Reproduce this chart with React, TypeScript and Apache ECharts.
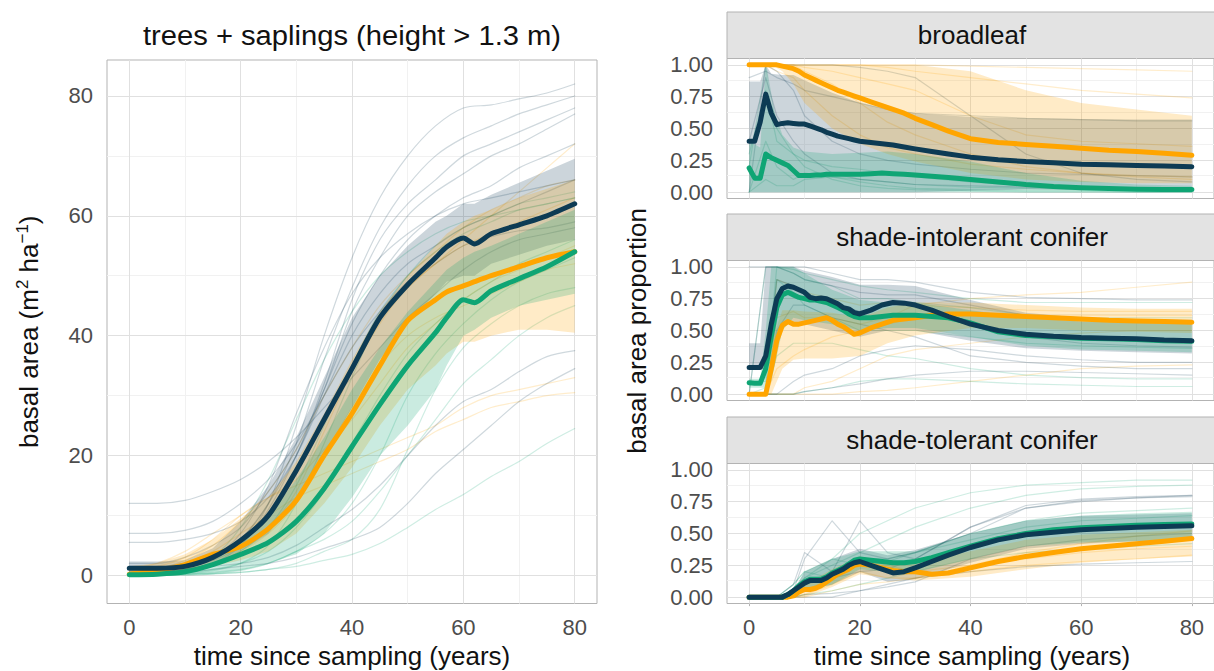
import { useEffect, useRef } from 'react';
import * as echarts from 'echarts';

const FONT = '"Liberation Sans", Arial, Helvetica, sans-serif';
const NAVY = '#0d3b54';
const ORANGE = '#ffa500';
const GREEN = '#0fa574';
const NAVY_FILL = 'rgba(13,59,84,0.21)';
const ORANGE_FILL = 'rgba(255,165,0,0.22)';
const GREEN_FILL = 'rgba(15,165,116,0.22)';

// ---------- left panel: basal area ----------
const TL = [0, 5, 10, 15, 20, 25, 30, 35, 40, 45, 50, 55, 57, 60, 62, 65, 70, 75, 80];
const baNavy = [1.2, 1.2, 1.5, 3, 5.8, 10, 17.5, 26, 34.5, 43, 48.5, 53, 54.8, 56.3, 55.3, 57, 58.5, 60, 62];
const baOrange = [0.2, 0.8, 1.8, 3.5, 4.8, 7.8, 12.5, 20, 27, 35, 42.5, 46, 47.3, 48.3, 49, 50, 51.5, 53, 54];
const baGreen = [0.1, 0.2, 0.6, 1.8, 3.5, 5.5, 9, 14.5, 21.5, 28.5, 35, 40.5, 43, 46, 45.5, 47.5, 49.5, 51.5, 54];
const baNavyHi = [2.3, 2.3, 2.5, 4.5, 9, 15, 23, 33, 43, 50, 55, 59, 60, 62, 62, 63.5, 65.5, 67.5, 69.5];
const baNavyLo = [0.3, 0.3, 0.6, 1.5, 4, 7, 13, 20, 28, 36, 42, 47, 49, 50, 50, 52, 53.5, 55, 56];
const baOrangeHi = [1.5, 2, 3.5, 6, 9.5, 13, 19, 27, 36, 44, 50, 55, 57, 59, 60, 61, 63, 64.5, 66];
const baOrangeLo = [0, 0.2, 0.5, 1.5, 2.5, 4, 7, 12, 18, 25, 31, 35, 37, 39, 39, 40, 41, 41, 40.5];
const baGreenHi = [0.4, 0.5, 1, 2.5, 6, 10, 16, 23, 31, 38, 44, 49, 51, 53, 54, 55, 57, 59, 61];
const baGreenLo = [0, 0, 0.1, 0.3, 0.8, 2, 3.5, 7, 13, 20, 25, 31, 35, 40, 41, 43, 45, 46, 47];

const TS = [0, 5, 10, 15, 20, 25, 30, 35, 40, 45, 50, 55, 60, 65, 70, 75, 80];
const baNavyRuns = [
  [0.5, 0.8, 1, 2, 5, 12, 25, 40, 53, 63, 70, 75, 78, 78.5, 79.5, 80.5, 82],
  [1.5, 1.5, 2, 3, 6, 12, 22, 36, 48, 58, 65, 70, 73, 75, 77, 78.5, 80],
  [1, 1, 1.5, 2.5, 5, 11, 20, 32, 46, 56, 62, 66, 70, 72, 74, 76, 78],
  [1, 1, 2, 3, 6, 12, 20, 31, 44, 53, 60, 64, 67, 70, 72, 74.5, 77],
  [2, 2, 3, 5, 8, 14, 21, 31, 42, 50, 56, 60, 63, 65, 68, 70, 72],
  [12, 12, 12.5, 14, 16, 19, 23, 28, 33, 38, 43, 47, 51, 54, 56, 57, 58],
  [7, 7, 7.5, 9, 12, 16, 22, 30, 38, 44, 49, 52, 55, 56.5, 57.5, 58, 59],
  [0.5, 0.5, 1, 1.5, 2, 3, 5, 8, 11, 15, 20, 25, 29, 31, 34, 36.5, 37.5],
  [0.5, 0.5, 0.5, 1, 1.5, 2, 3, 4.5, 6, 8, 12, 17, 21, 25, 29, 32, 34.5],
  [5.5, 5.5, 6, 7, 9, 13, 20, 30, 40, 47, 52, 55, 58, 60, 62, 64, 66],
  [1, 1, 1.5, 3, 7, 15, 27, 38, 47, 53, 57, 60, 62, 63, 64, 65, 66],
];
const baOrangeRuns = [
  [0.5, 1, 2.5, 5, 9, 14, 21, 30, 38, 45, 50, 54, 58, 61, 63, 65, 66],
  [1, 2, 4, 7, 10, 13, 16, 21, 26, 32, 38, 42, 46, 49, 51, 53, 55],
  [1, 1.5, 3, 6, 10, 13, 15, 17, 19, 21, 23, 25, 28, 30, 31, 32, 33],
  [0.5, 1, 2, 4, 7, 10, 13, 15, 17, 19, 21, 24, 26, 28, 29, 30, 30.5],
  [0.5, 1, 2, 3, 5, 8, 14, 24, 34, 42, 48, 52, 56, 60, 64, 68, 72],
  [0.2, 0.5, 1, 2, 4, 7, 12, 20, 28, 35, 40, 43, 45, 47, 49, 51, 52],
  [0, 0.5, 1.5, 3, 6, 10, 17, 26, 35, 43, 48, 52, 55, 57, 59, 61, 63],
];
const baGreenRuns = [
  [0, 0, 0.2, 0.3, 0.5, 1, 1.5, 2.5, 3.5, 5.3, 8, 11, 13.5, 16.5, 19, 22, 24.5],
  [0, 0.2, 0.5, 1, 2, 4, 8, 14, 22, 30, 37, 42, 46, 49, 52, 54, 56],
  [0, 0.1, 0.3, 0.8, 2, 5, 12, 22, 33, 43, 50, 54, 57, 59, 61, 62, 63],
  [0.5, 0.5, 1, 2, 4, 8, 15, 25, 35, 44, 50, 55, 58, 60, 62, 63, 64],
  [0, 0, 0.2, 0.5, 1, 2, 4, 7, 12, 20, 30, 37, 42, 46, 49, 51, 53],
  [0, 0, 0, 0.2, 0.5, 1, 2, 4, 6, 11, 21, 31, 38, 42, 45, 47, 48],
  [0, 0, 0.1, 0.3, 0.8, 2, 4, 6, 9, 14, 20, 26, 32, 36, 40, 43, 45],
  [0, 0.3, 1, 3, 8, 16, 26, 36, 44, 50, 54, 57, 59, 60, 61, 62, 63],
];

// ---------- right panels: basal area proportion ----------
const TR = [0, 1, 2, 3, 4, 5, 6, 7, 8, 9, 10, 11, 12, 13, 14, 15, 16, 17, 18, 19, 20, 22, 24, 26, 28, 30, 33, 36, 40, 45, 50, 55, 60, 65, 70, 75, 80];
const blOrange = [1, 1, 1, 1, 1, 1, 0.99, 0.98, 0.97, 0.95, 0.92, 0.9, 0.88, 0.86, 0.84, 0.82, 0.8, 0.785, 0.77, 0.755, 0.74, 0.71, 0.68, 0.65, 0.62, 0.58, 0.53, 0.48, 0.42, 0.39, 0.375, 0.36, 0.345, 0.33, 0.32, 0.305, 0.29];
const blNavy = [0.4, 0.4, 0.55, 0.77, 0.62, 0.53, 0.54, 0.545, 0.54, 0.535, 0.535, 0.52, 0.505, 0.49, 0.47, 0.455, 0.44, 0.43, 0.42, 0.41, 0.4, 0.39, 0.38, 0.37, 0.355, 0.34, 0.32, 0.3, 0.275, 0.255, 0.24, 0.23, 0.22, 0.215, 0.21, 0.205, 0.2];
const blGreen = [0.19, 0.11, 0.11, 0.3, 0.27, 0.25, 0.23, 0.21, 0.17, 0.13, 0.13, 0.13, 0.135, 0.135, 0.14, 0.14, 0.14, 0.14, 0.14, 0.14, 0.14, 0.145, 0.15, 0.145, 0.14, 0.135, 0.125, 0.115, 0.1, 0.08, 0.06, 0.045, 0.035, 0.028, 0.022, 0.02, 0.02];
const inNavy = [0.21, 0.21, 0.21, 0.3, 0.55, 0.75, 0.83, 0.85, 0.84, 0.82, 0.8, 0.76, 0.75, 0.755, 0.75, 0.73, 0.71, 0.68, 0.67, 0.64, 0.63, 0.66, 0.7, 0.72, 0.715, 0.7, 0.66, 0.61, 0.55, 0.5, 0.47, 0.455, 0.445, 0.44, 0.435, 0.425, 0.42];
const inOrange = [0, 0, 0, 0, 0.2, 0.42, 0.54, 0.57, 0.55, 0.55, 0.56, 0.57, 0.58, 0.59, 0.6, 0.58, 0.55, 0.53, 0.5, 0.47, 0.48, 0.52, 0.55, 0.58, 0.59, 0.6, 0.62, 0.63, 0.63, 0.62, 0.61, 0.6, 0.59, 0.58, 0.575, 0.57, 0.565];
const inGreen = [0.09, 0.085, 0.085, 0.2, 0.45, 0.68, 0.78, 0.8, 0.78, 0.76, 0.75, 0.74, 0.74, 0.73, 0.72, 0.7, 0.68, 0.66, 0.63, 0.61, 0.6, 0.6, 0.61, 0.62, 0.62, 0.62, 0.61, 0.6, 0.56, 0.49, 0.46, 0.45, 0.44, 0.435, 0.43, 0.42, 0.415];
const toNavy = [0, 0, 0, 0, 0, 0, 0, 0.02, 0.05, 0.08, 0.11, 0.13, 0.13, 0.13, 0.15, 0.18, 0.2, 0.22, 0.25, 0.27, 0.28, 0.25, 0.22, 0.19, 0.2, 0.23, 0.28, 0.33, 0.39, 0.45, 0.49, 0.51, 0.53, 0.54, 0.55, 0.555, 0.56];
const toOrange = [0, 0, 0, 0, 0, 0, 0, 0, 0.01, 0.04, 0.06, 0.06, 0.07, 0.09, 0.12, 0.15, 0.18, 0.2, 0.22, 0.25, 0.26, 0.25, 0.23, 0.21, 0.2, 0.2, 0.18, 0.19, 0.23, 0.28, 0.32, 0.35, 0.38, 0.4, 0.42, 0.44, 0.46];
const toGreen = [0, 0, 0, 0, 0, 0, 0, 0.02, 0.05, 0.09, 0.12, 0.14, 0.14, 0.14, 0.16, 0.19, 0.21, 0.23, 0.26, 0.29, 0.3, 0.29, 0.28, 0.27, 0.27, 0.28, 0.31, 0.35, 0.4, 0.46, 0.5, 0.53, 0.545, 0.555, 0.565, 0.57, 0.575];

const TRB = [0, 2, 3, 4, 6, 8, 10, 15, 20, 25, 30, 40, 50, 60, 70, 80];
const blNavyHi = [0.87, 0.87, 1, 0.93, 0.92, 0.92, 0.88, 0.78, 0.7, 0.65, 0.62, 0.59, 0.58, 0.575, 0.57, 0.57];
const blNavyLo = [0, 0, 0, 0, 0, 0, 0, 0, 0, 0, 0, 0.01, 0.02, 0.02, 0.02, 0.02];
const blOrangeHi = [1, 1, 1, 1, 1, 1, 1, 1, 1, 1, 1, 0.95, 0.8, 0.7, 0.65, 0.6];
const blOrangeLo = [1, 1, 1, 1, 0.95, 0.85, 0.7, 0.5, 0.38, 0.3, 0.24, 0.15, 0.1, 0.08, 0.07, 0.07];
const blGreenHi = [0.4, 0.35, 1, 0.7, 0.45, 0.35, 0.32, 0.3, 0.31, 0.32, 0.3, 0.24, 0.15, 0.09, 0.06, 0.05];
const blGreenLo = [0, 0, 0, 0, 0, 0, 0, 0, 0, 0, 0, 0, 0, 0, 0, 0];
const inNavyHi = [0.4, 0.4, 1, 1, 1, 1, 0.97, 0.92, 0.86, 0.86, 0.85, 0.74, 0.64, 0.6, 0.59, 0.58];
const inNavyLo = [0.2, 0.2, 0.2, 0.25, 0.55, 0.55, 0.55, 0.5, 0.45, 0.5, 0.5, 0.42, 0.36, 0.34, 0.33, 0.32];
const inOrangeHi = [0, 0, 0, 0.4, 0.66, 0.66, 0.65, 0.64, 0.6, 0.68, 0.72, 0.72, 0.7, 0.68, 0.67, 0.67];
const inOrangeLo = [0, 0, 0, 0, 0.2, 0.27, 0.28, 0.28, 0.3, 0.4, 0.46, 0.52, 0.52, 0.5, 0.49, 0.48];
const inGreenHi = [0.12, 0.12, 0.5, 1, 1, 1, 0.95, 0.82, 0.74, 0.72, 0.72, 0.66, 0.6, 0.57, 0.56, 0.55];
const inGreenLo = [0.05, 0.05, 0.05, 0.1, 0.5, 0.6, 0.58, 0.55, 0.5, 0.52, 0.52, 0.45, 0.38, 0.35, 0.34, 0.33];
const toNavyHi = [0, 0, 0, 0, 0, 0.05, 0.2, 0.3, 0.38, 0.33, 0.37, 0.5, 0.6, 0.64, 0.65, 0.66];
const toNavyLo = [0, 0, 0, 0, 0, 0, 0.05, 0.1, 0.2, 0.12, 0.14, 0.27, 0.38, 0.42, 0.44, 0.45];
const toOrangeHi = [0, 0, 0, 0, 0, 0, 0.1, 0.22, 0.32, 0.28, 0.27, 0.36, 0.45, 0.49, 0.51, 0.53];
const toOrangeLo = [0, 0, 0, 0, 0, 0, 0, 0.08, 0.18, 0.15, 0.13, 0.16, 0.22, 0.27, 0.3, 0.32];
const toGreenHi = [0, 0, 0, 0, 0, 0.05, 0.2, 0.3, 0.36, 0.36, 0.36, 0.5, 0.6, 0.64, 0.66, 0.67];
const toGreenLo = [0, 0, 0, 0, 0, 0, 0.05, 0.1, 0.22, 0.2, 0.2, 0.3, 0.4, 0.43, 0.44, 0.45];

const TRS = [0, 3, 5, 8, 10, 15, 20, 25, 30, 40, 50, 60, 70, 80];
const blNavyRuns = [
  [0.9, 0.95, 0.9, 0.85, 0.8, 0.75, 0.7, 0.65, 0.62, 0.6, 0.58, 0.57, 0.56, 0.56],
  [0, 1, 0.95, 0.8, 0.6, 0.4, 0.3, 0.25, 0.22, 0.18, 0.15, 0.14, 0.13, 0.12],
  [1, 1, 1, 1, 1, 1, 0.98, 0.95, 0.9, 0.6, 0.3, 0.15, 0.1, 0.08],
  [0.4, 0.9, 0.6, 0.4, 0.3, 0.15, 0.1, 0.08, 0.06, 0.05, 0.04, 0.03, 0.03, 0.03],
];
const blOrangeRuns = [
  [1, 1, 1, 1, 1, 1, 1, 1, 1, 0.99, 0.98, 0.97, 0.96, 0.95],
  [1, 1, 1, 1, 1, 1, 1, 0.98, 0.95, 0.9, 0.85, 0.8, 0.77, 0.74],
  [1, 1, 1, 1, 0.98, 0.95, 0.9, 0.85, 0.8, 0.6, 0.45, 0.4, 0.38, 0.36],
  [1, 1, 1, 1, 0.95, 0.85, 0.7, 0.55, 0.45, 0.3, 0.2, 0.15, 0.12, 0.1],
  [1, 1, 0.95, 0.9, 0.8, 0.6, 0.45, 0.35, 0.3, 0.22, 0.18, 0.15, 0.13, 0.12],
];
const blGreenRuns = [
  [0.2, 1, 0.5, 0.3, 0.2, 0.1, 0.05, 0.03, 0.02, 0.01, 0, 0, 0, 0],
  [0, 0.4, 0.2, 0.1, 0.15, 0.12, 0.08, 0.05, 0.03, 0.02, 0.01, 0.01, 0, 0],
  [0.3, 0.8, 0.4, 0.3, 0.25, 0.2, 0.18, 0.15, 0.12, 0.08, 0.05, 0.03, 0.02, 0.02],
  [0, 0.1, 0.05, 0.05, 0.1, 0.12, 0.1, 0.08, 0.06, 0.04, 0.03, 0.02, 0.02, 0.01],
];
const inNavyRuns = [
  [1, 1, 1, 1, 1, 0.95, 0.9, 0.9, 0.88, 0.8, 0.76, 0.75, 0.74, 0.74],
  [0.2, 0.2, 0.9, 0.85, 0.8, 0.7, 0.65, 0.7, 0.72, 0.55, 0.45, 0.4, 0.38, 0.37],
  [0, 0, 0.5, 0.7, 0.7, 0.6, 0.55, 0.5, 0.45, 0.3, 0.25, 0.22, 0.2, 0.2],
  [0, 0, 0, 0.1, 0.15, 0.2, 0.3, 0.35, 0.38, 0.35, 0.3, 0.27, 0.25, 0.25],
  [0, 0, 0, 0, 0.02, 0.05, 0.08, 0.12, 0.15, 0.18, 0.18, 0.17, 0.16, 0.15],
  [0, 1, 1, 0.95, 0.9, 0.85, 0.8, 0.78, 0.78, 0.7, 0.62, 0.6, 0.58, 0.58],
];
const inOrangeRuns = [
  [0, 0, 0.6, 0.65, 0.6, 0.6, 0.55, 0.6, 0.7, 0.75, 0.78, 0.8, 0.84, 0.88],
  [0, 0, 0.2, 0.3, 0.35, 0.45, 0.5, 0.55, 0.6, 0.62, 0.62, 0.62, 0.62, 0.62],
  [0, 0, 0, 0, 0.05, 0.1, 0.2, 0.3, 0.35, 0.4, 0.45, 0.48, 0.5, 0.5],
  [0, 0, 0, 0, 0, 0, 0.02, 0.03, 0.05, 0.1, 0.15, 0.2, 0.22, 0.23],
  [0, 0, 0.9, 0.85, 0.8, 0.75, 0.7, 0.72, 0.7, 0.68, 0.66, 0.65, 0.65, 0.65],
];
const inGreenRuns = [
  [0.1, 0.1, 1, 0.95, 0.9, 0.85, 0.75, 0.75, 0.72, 0.68, 0.62, 0.6, 0.6, 0.6],
  [0, 0.05, 0.9, 0.8, 0.7, 0.6, 0.5, 0.5, 0.5, 0.45, 0.4, 0.38, 0.37, 0.36],
  [0, 0, 0.3, 0.4, 0.4, 0.4, 0.35, 0.3, 0.28, 0.2, 0.15, 0.13, 0.12, 0.12],
  [0, 0, 0, 0, 0.02, 0.05, 0.1, 0.12, 0.12, 0.1, 0.08, 0.07, 0.06, 0.06],
  [0, 1, 1, 0.98, 0.95, 0.9, 0.85, 0.82, 0.8, 0.75, 0.72, 0.72, 0.72, 0.72],
];
const toNavyRuns = [
  [0, 0, 0, 0.05, 0.3, 0.6, 0.35, 0.3, 0.35, 0.5, 0.7, 0.76, 0.78, 0.8],
  [0, 0, 0, 0.1, 0.35, 0.2, 0.6, 0.35, 0.3, 0.55, 0.72, 0.77, 0.79, 0.8],
  [0, 0, 0, 0.05, 0.1, 0.15, 0.2, 0.22, 0.3, 0.55, 0.7, 0.75, 0.78, 0.79],
  [0, 0, 0, 0, 0.02, 0.03, 0.05, 0.08, 0.12, 0.3, 0.4, 0.45, 0.48, 0.5],
  [0, 0, 0, 0, 0, 0, 0.05, 0.1, 0.15, 0.2, 0.24, 0.26, 0.27, 0.28],
];
const toOrangeRuns = [
  [0, 0, 0, 0, 0.05, 0.15, 0.3, 0.25, 0.2, 0.25, 0.3, 0.35, 0.38, 0.4],
  [0, 0, 0, 0, 0.02, 0.1, 0.2, 0.15, 0.15, 0.2, 0.25, 0.28, 0.3, 0.33],
  [0, 0, 0, 0, 0, 0.05, 0.1, 0.12, 0.15, 0.25, 0.35, 0.42, 0.48, 0.52],
];
const toGreenRuns = [
  [0, 0, 0, 0.1, 0.2, 0.3, 0.5, 0.6, 0.7, 0.82, 0.88, 0.9, 0.92, 0.92],
  [0, 0, 0, 0.05, 0.15, 0.25, 0.35, 0.45, 0.55, 0.7, 0.8, 0.85, 0.87, 0.88],
  [0, 0, 0, 0.1, 0.2, 0.15, 0.3, 0.3, 0.35, 0.45, 0.55, 0.6, 0.62, 0.64],
  [0, 0, 0, 0, 0.02, 0.05, 0.1, 0.15, 0.2, 0.3, 0.35, 0.38, 0.4, 0.42],
  [0, 0, 0, 0.05, 0.15, 0.3, 0.25, 0.28, 0.35, 0.5, 0.6, 0.66, 0.68, 0.7],
];

const X_TICKS = [0, 20, 40, 60, 80];
const X_MINOR = [10, 30, 50, 70];
const BA_TICKS = [0, 20, 40, 60, 80];
const BA_MINOR = [10, 30, 50, 70];
const P_TICKS = [0, 0.25, 0.5, 0.75, 1];
const P_MINOR = [0.125, 0.375, 0.625, 0.875];
const STRIPS = ['broadleaf', 'shade-intolerant conifer', 'shade-tolerant conifer'];

// layout
const L_LEFT = 107, L_TOP = 60, L_W = 490, L_H = 543.5;
const R_LEFT = 727, R_W = 490;
const R_TOPS = [58.5, 260.5, 463.5];
const R_H = 140;
const STRIP_H = 46.5;

const pairs = (t: number[], v: number[]) => t.map((x, i) => [x, v[i]]);

function gridLines(yMaj: number[], yMin: number[]) {
  const maj = { color: '#e0e0e0', width: 1, type: 'solid' };
  const min = { color: '#f1f1f1', width: 1, type: 'solid' };
  return [
    ...yMin.map((v) => ({ yAxis: v, lineStyle: min })),
    ...X_MINOR.map((v) => ({ xAxis: v, lineStyle: min })),
    ...yMaj.map((v) => ({ yAxis: v, lineStyle: maj })),
    ...X_TICKS.map((v) => ({ xAxis: v, lineStyle: maj })),
  ];
}

function line(gi: number, t: number[], v: number[], color: string, width: number, opacity: number, z: number, extra: any = {}) {
  return {
    type: 'line',
    xAxisIndex: gi,
    yAxisIndex: gi,
    data: pairs(t, v),
    symbol: 'none',
    showSymbol: false,
    silent: true,
    z,
    clip: true,
    lineStyle: { color, width, opacity, join: 'round', cap: 'round' },
    itemStyle: { color },
    emphasis: { disabled: true },
    ...extra,
  };
}

function ribbon(gi: number, t: number[], hi: number[], lo: number[], fill: string) {
  return {
    type: 'custom',
    xAxisIndex: gi,
    yAxisIndex: gi,
    silent: true,
    z: 3,
    clip: true,
    data: [[t[0], lo[0]]],
    renderItem: (_p: any, api: any) => {
      const pts: number[][] = [];
      for (let i = 0; i < t.length; i++) pts.push(api.coord([t[i], hi[i]]));
      for (let i = t.length - 1; i >= 0; i--) pts.push(api.coord([t[i], lo[i]]));
      return { type: 'polygon', shape: { points: pts }, style: { fill, stroke: 'none' } };
    },
  };
}

function panelSeries(
  gi: number,
  tRuns: number[],
  runs: [number[][], string][],
  tBand: number[],
  bands: [number[], number[], string][],
  tMean: number[],
  means: [number[], string][],
  yMaj: number[],
  yMin: number[],
  smooth: boolean,
) {
  const out: any[] = [];
  let first = true;
  runs.forEach(([list, color]) => {
    list.forEach((r) => {
      const extra: any = smooth ? { smooth: 0.3 } : {};
      if (first) {
        extra.markLine = {
          silent: true,
          symbol: ['none', 'none'],
          label: { show: false },
          emphasis: { disabled: true },
          animation: false,
          z: 1,
          data: gridLines(yMaj, yMin),
        };
      }
      first = false;
      out.push(line(gi, tRuns, r, color, 1.2, 0.2, 2, extra));
    });
  });
  bands.forEach(([hi, lo, fill]) => out.push(ribbon(gi, tBand, hi, lo, fill)));
  means.forEach(([v, color]) => out.push(line(gi, tMean, v, color, 5, 1, 4, smooth ? { smooth: 0.25 } : {})));
  return out;
}

export default function App() {
  const ref = useRef<HTMLDivElement>(null);
  useEffect(() => {
    if (!ref.current) return;
    const chart = echarts.init(ref.current, undefined, { renderer: 'svg' });

    const labelStyle = { fontSize: 22, color: '#4d4d4d', fontFamily: FONT };
    const tickStyle = { color: '#b3b3b3', width: 1 };

    const grids = [
      { left: L_LEFT, top: L_TOP, width: L_W, height: L_H },
      ...R_TOPS.map((t) => ({ left: R_LEFT, top: t, width: R_W, height: R_H })),
    ].map((g) => ({ ...g, show: true, borderColor: '#b3b3b3', borderWidth: 1, backgroundColor: 'transparent', containLabel: false }));

    const xAxes = [0, 1, 2, 3].map((gi) => {
      const showLabels = gi === 0 || gi === 3;
      return {
        type: 'value',
        gridIndex: gi,
        min: -4,
        max: 84,
        axisLine: { show: false },
        splitLine: { show: false },
        axisTick: { show: showLabels, length: 9, lineStyle: tickStyle, customValues: X_TICKS },
        axisLabel: { show: showLabels, customValues: X_TICKS, margin: 13, ...labelStyle },
      };
    });

    const yAxes = [
      {
        type: 'value',
        gridIndex: 0,
        min: -4.7,
        max: 86,
        axisLine: { show: false },
        splitLine: { show: false },
        axisTick: { show: true, length: 9, lineStyle: tickStyle, customValues: BA_TICKS },
        axisLabel: { customValues: BA_TICKS, margin: 14, ...labelStyle },
      },
      ...[1, 2, 3].map((gi) => ({
        type: 'value',
        gridIndex: gi,
        min: -0.05,
        max: 1.05,
        axisLine: { show: false },
        splitLine: { show: false },
        axisTick: { show: true, length: 9, lineStyle: tickStyle, customValues: P_TICKS },
        axisLabel: { customValues: P_TICKS, margin: 14, formatter: (v: number) => v.toFixed(2), ...labelStyle },
      })),
    ];

    const series = [
      ...panelSeries(
        0,
        TS,
        [
          [baOrangeRuns, ORANGE],
          [baGreenRuns, GREEN],
          [baNavyRuns, NAVY],
        ],
        TL,
        [
          [baNavyHi, baNavyLo, NAVY_FILL],
          [baOrangeHi, baOrangeLo, ORANGE_FILL],
          [baGreenHi, baGreenLo, GREEN_FILL],
        ],
        TL,
        [
          [baOrange, ORANGE],
          [baGreen, GREEN],
          [baNavy, NAVY],
        ],
        BA_TICKS,
        BA_MINOR,
        true,
      ),
      ...panelSeries(
        1,
        TRS,
        [
          [blOrangeRuns, ORANGE],
          [blGreenRuns, GREEN],
          [blNavyRuns, NAVY],
        ],
        TRB,
        [
          [blNavyHi, blNavyLo, NAVY_FILL],
          [blOrangeHi, blOrangeLo, ORANGE_FILL],
          [blGreenHi, blGreenLo, GREEN_FILL],
        ],
        TR,
        [
          [blOrange, ORANGE],
          [blNavy, NAVY],
          [blGreen, GREEN],
        ],
        P_TICKS,
        P_MINOR,
        false,
      ),
      ...panelSeries(
        2,
        TRS,
        [
          [inOrangeRuns, ORANGE],
          [inGreenRuns, GREEN],
          [inNavyRuns, NAVY],
        ],
        TRB,
        [
          [inNavyHi, inNavyLo, NAVY_FILL],
          [inOrangeHi, inOrangeLo, ORANGE_FILL],
          [inGreenHi, inGreenLo, GREEN_FILL],
        ],
        TR,
        [
          [inOrange, ORANGE],
          [inGreen, GREEN],
          [inNavy, NAVY],
        ],
        P_TICKS,
        P_MINOR,
        false,
      ),
      ...panelSeries(
        3,
        TRS,
        [
          [toOrangeRuns, ORANGE],
          [toGreenRuns, GREEN],
          [toNavyRuns, NAVY],
        ],
        TRB,
        [
          [toNavyHi, toNavyLo, NAVY_FILL],
          [toOrangeHi, toOrangeLo, ORANGE_FILL],
          [toGreenHi, toGreenLo, GREEN_FILL],
        ],
        TR,
        [
          [toOrange, ORANGE],
          [toGreen, GREEN],
          [toNavy, NAVY],
        ],
        P_TICKS,
        P_MINOR,
        false,
      ),
    ];

    const textStyle = (text: string, size: number) => ({
      text,
      fontSize: size,
      fontFamily: FONT,
      fill: '#111',
      align: 'center',
      verticalAlign: 'middle',
    });

    const rightCenter = R_LEFT + (44 / 88) * R_W;
    const leftCenter = L_LEFT + (44 / 88) * L_W;

    const graphic: any[] = [
      { type: 'text', x: leftCenter, y: 36, scaleX: 1.08, style: textStyle('trees + saplings (height > 1.3 m)', 27), silent: true },
      { type: 'text', x: leftCenter, y: 656, style: textStyle('time since sampling (years)', 26), silent: true },
      { type: 'text', x: rightCenter, y: 656, style: textStyle('time since sampling (years)', 26), silent: true },
      {
        type: 'text',
        x: 29,
        y: L_TOP + L_H / 2,
        rotation: Math.PI / 2,
        silent: true,
        style: {
          text: '{a|basal area (m}{s|2}{a| ha}{s|\u22121}{a|)}',
          align: 'center',
          verticalAlign: 'middle',
          fill: '#111',
          rich: {
            a: { fontSize: 26, fontFamily: FONT, fill: '#111', lineHeight: 30, verticalAlign: 'middle' },
            s: { fontSize: 17, fontFamily: FONT, fill: '#111', lineHeight: 30, verticalAlign: 'top' },
          },
        },
      },
      { type: 'text', x: 637, y: 331, rotation: Math.PI / 2, style: textStyle('basal area proportion', 26), silent: true },
    ];
    R_TOPS.forEach((t, i) => {
      graphic.push({
        type: 'rect',
        silent: true,
        shape: { x: R_LEFT, y: t - STRIP_H, width: R_W, height: STRIP_H },
        style: { fill: '#e3e3e3', stroke: '#b3b3b3', lineWidth: 1 },
      });
      graphic.push({
        type: 'text',
        silent: true,
        x: rightCenter,
        y: t - STRIP_H / 2,
        style: textStyle(STRIPS[i], 26),
      });
    });

    chart.setOption({
      animation: false,
      backgroundColor: '#ffffff',
      grid: grids,
      xAxis: xAxes,
      yAxis: yAxes,
      series,
      graphic,
    });
    return () => chart.dispose();
  }, []);
  return <div ref={ref} style={{ position: 'fixed', left: 0, top: 0, width: 1214, height: 671 }} />;
}
